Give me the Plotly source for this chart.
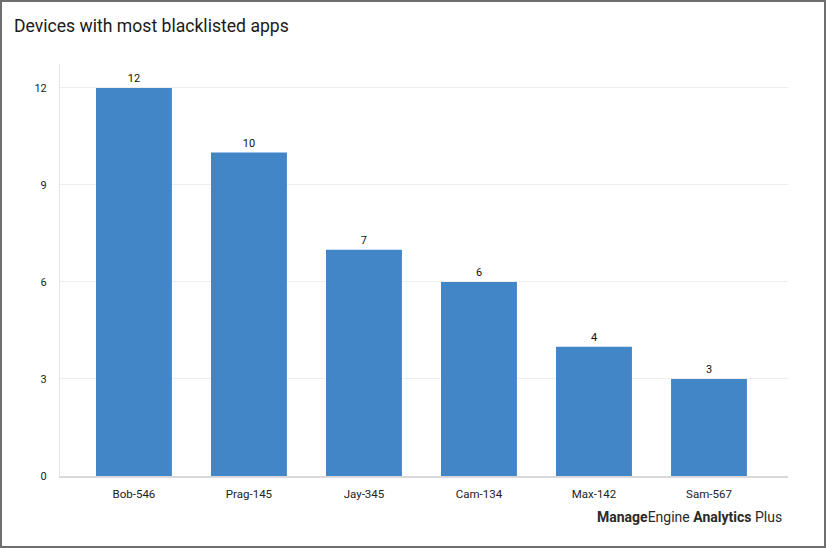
import plotly.graph_objects as go

devices = ["Bob-546", "Prag-145", "Jay-345", "Cam-134", "Max-142", "Sam-567"]
counts = [12, 10, 7, 6, 4, 3]
y_ticks = [0, 3, 6, 9, 12]

W, H = 826, 548
L, R, T, B = 60, 38, 64, 72
pw, ph = W - L - R, H - T - B

def px(x):
    return (x - L) / pw

def py(y):
    return (H - B - y) / ph

FONT = "Roboto, Lato, sans-serif"

fig = go.Figure()
fig.add_trace(go.Bar(
    x=devices, y=counts,
    marker=dict(color="#4286C7", line=dict(width=0)),
    width=0.66,
    text=[str(c) for c in counts], textposition="outside",
    textfont=dict(size=11, color="#111", family=FONT),
    cliponaxis=False,
))

fig.update_layout(
    width=W, height=H,
    margin=dict(l=L, r=R, t=T, b=B),
    paper_bgcolor="white", plot_bgcolor="white",
    font=dict(family=FONT, color="#222"),
    title=dict(text="Devices with most blacklisted apps", x=14 / W, xanchor="left",
               y=1 - 26 / H, yanchor="middle",
               font=dict(size=17.6, color="#1a1a1a", family=FONT)),
    showlegend=False,
    xaxis=dict(range=[-0.643, 5.687], showgrid=False, showline=True, linecolor="#d9d9d9",
               linewidth=1.5, ticks="", tickfont=dict(size=11.5, color="#222"),
               ticklabelstandoff=6, fixedrange=True),
    yaxis=dict(range=[0, 12.74], tickvals=y_ticks, showgrid=True, gridcolor="#eeeeee",
               showline=True, linecolor="#e3e3e3", linewidth=1, zeroline=False,
               ticks="", tickfont=dict(size=11, color="#222"), ticklabelstandoff=10),
    shapes=[dict(type="rect", xref="paper", yref="paper",
                 x0=px(1), x1=px(825), y0=py(547), y1=py(1),
                 line=dict(color="#6e6e6e", width=2), fillcolor="rgba(0,0,0,0)", layer="above")],
    annotations=[dict(text="<b>Manage</b>Engine <b>Analytics</b> Plus", xref="paper", yref="paper",
                      x=px(784), y=py(517), xanchor="right", yanchor="middle", showarrow=False,
                      font=dict(size=14, color="#2a2a2a", family=FONT))],
)

fig.write_html("out.html", config={"displayModeBar": False},
               post_script="document.body.style.margin='0';document.body.style.overflow='hidden';")
